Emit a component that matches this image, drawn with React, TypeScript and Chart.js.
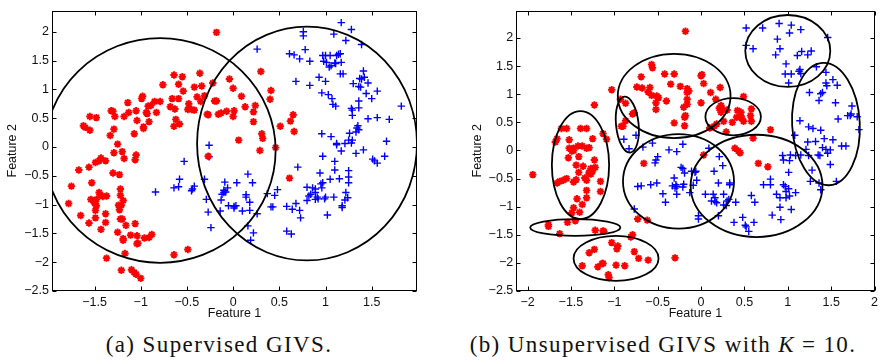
import React, { useEffect, useRef } from 'react';
import { Chart, registerables } from 'chart.js';
Chart.register(...registerables);

type P = [number, number];
type Ell = [number, number, number, number, number];

// ---------- (a) Supervised GIVS ----------
const supRed: P[] = [
  [-0.18,1.99],[0.30,1.31],[-0.36,1.28],[-0.64,1.25],[-0.55,1.22],[-0.04,1.18],[-0.76,1.08],[-0.59,1.09],
  [-0.22,1.11],[0.00,1.02],[-0.42,1.04],[-0.34,1.06],[-0.54,0.97],[0.09,0.88],[0.41,0.98],[-0.98,0.88],
  [-0.99,0.84],[-0.39,0.87],[-0.31,0.89],[-0.66,0.84],[-0.59,0.84],[-0.85,0.79],[-0.89,0.72],[-0.79,0.79],
  [-0.92,0.71],[-1.14,0.77],[0.40,0.83],[-0.20,0.80],[-0.18,0.80],[-0.35,0.79],[-0.48,0.75],[-0.68,0.70],
  [-0.63,0.66],[-0.49,0.65],[-0.45,0.65],[-0.42,0.64],[0.24,0.72],[0.13,0.70],[-0.93,0.58],[-0.83,0.60],
  [-0.94,0.60],[-1.05,0.63],[-1.13,0.60],[-1.32,0.63],[-1.30,0.62],[-1.28,0.53],[0.01,0.63],[-0.07,0.62],
  [-0.13,0.59],[-0.16,0.57],[-0.27,0.56],[-0.28,0.57],[0.00,0.53],[0.22,0.61],[-1.55,0.53],[-1.48,0.51],
  [-1.18,0.53],[-1.04,0.46],[-0.91,0.44],[-0.62,0.48],[-0.64,0.36],[-0.58,0.40],[0.22,0.44],[0.65,0.56],
  [0.62,0.45],[0.51,0.36],[0.66,0.27],[0.31,0.23],[0.32,0.15],[-1.62,0.37],[-1.60,0.34],[-1.55,0.29],
  [-1.29,0.31],[-1.33,0.20],[-0.97,0.35],[-0.97,0.32],[-1.07,0.23],[0.06,0.12],[0.46,-0.01],[0.29,-0.06],
  [-1.25,0.05],[-1.20,-0.08],[-1.29,-0.10],[-0.27,-0.16],[-1.05,-0.14],[-1.06,-0.22],[-1.18,-0.20],[-1.43,-0.19],
  [-1.45,-0.24],[-1.49,-0.27],[-1.38,-0.24],[-1.56,-0.35],[-1.67,-0.40],[-1.30,-0.45],[-1.23,-0.48],[0.61,-0.54],
  [-1.53,-0.62],[-1.75,-0.68],[-1.22,-0.73],[-1.45,-0.79],[-1.44,-0.83],[-1.41,-0.86],[-1.22,-0.84],[-1.37,-0.85],
  [-1.48,-0.91],[-1.54,-0.91],[-1.51,-0.94],[-1.19,-0.93],[-1.78,-0.98],[-1.50,-0.97],[-1.24,-1.01],[-1.21,-1.01],
  [-1.48,-1.02],[-1.49,-1.10],[-1.23,-1.09],[-1.38,-1.16],[-1.65,-1.19],[-1.22,-1.25],[-1.49,-1.23],[-1.20,-1.25],
  [-1.56,-1.32],[-1.38,-1.31],[-1.06,-1.33],[-1.16,-1.36],[-1.25,-1.48],[-1.43,-1.43],[-1.19,-1.59],[-1.19,-1.62],
  [-1.11,-1.53],[-1.04,-1.54],[-0.96,-1.58],[-0.88,-1.52],[-0.91,-1.57],[-1.04,-1.68],[-1.03,-1.67],[-1.17,-1.85],
  [-0.49,-1.78],[-0.64,-1.87],[-1.37,-1.93],[-1.21,-2.14],[-1.10,-2.13],[-1.07,-2.18],[-1.05,-2.21],[-1.00,-2.28],
];

const supBlue: P[] = [
  [1.17,2.16],[1.28,2.04],[0.76,2.00],[0.76,1.93],[1.09,1.96],[1.22,1.85],[0.26,1.70],[1.39,1.78],
  [0.78,1.69],[0.61,1.62],[0.66,1.60],[0.72,1.53],[0.83,1.49],[0.97,1.59],[1.00,1.59],[1.05,1.59],
  [1.12,1.59],[1.14,1.61],[1.16,1.62],[0.98,1.49],[1.01,1.47],[1.04,1.39],[1.10,1.46],[1.17,1.47],
  [1.11,1.45],[1.06,1.41],[1.16,1.27],[1.19,1.27],[1.41,1.32],[0.93,1.21],[1.00,1.14],[0.68,1.14],
  [0.83,1.07],[1.37,1.19],[1.39,1.18],[1.30,1.10],[1.36,1.05],[1.38,1.04],[1.46,1.11],[1.42,1.21],
  [1.56,0.97],[0.96,0.94],[1.03,0.91],[1.07,0.84],[1.44,0.93],[1.50,0.84],[1.08,0.74],[1.11,0.71],
  [1.36,0.80],[1.36,0.68],[1.28,0.67],[1.29,0.64],[1.29,0.55],[1.82,0.71],[1.69,0.48],[1.56,0.51],
  [1.46,0.49],[1.35,0.37],[1.34,0.33],[1.36,0.30],[1.33,0.26],[0.96,0.23],[1.06,0.18],[1.26,0.24],
  [1.12,0.06],[1.12,0.04],[1.21,0.06],[1.25,0.12],[1.29,0.12],[1.28,0.07],[1.17,-0.07],[1.33,-0.11],
  [1.41,-0.05],[1.66,0.10],[1.51,-0.21],[1.53,-0.24],[1.56,-0.28],[1.64,-0.16],[0.97,-0.16],[1.10,-0.25],
  [0.70,-0.35],[1.10,-0.40],[0.94,-0.45],[1.25,-0.41],[1.15,-0.55],[1.05,-0.56],[1.25,-0.52],[0.95,-0.64],
  [0.97,-0.62],[0.96,-0.71],[0.89,-0.73],[0.80,-0.70],[0.86,-0.71],[0.89,-0.79],[0.84,-0.82],[0.82,-0.85],
  [0.91,-0.87],[0.92,-0.90],[0.99,-0.90],[0.89,-0.91],[0.80,-0.93],[1.00,-0.87],[1.09,-0.87],[1.22,-0.79],
  [1.24,-0.88],[1.25,-0.62],[1.21,-0.92],[1.18,-1.02],[1.18,-1.05],[0.58,-1.03],[0.64,-1.08],[0.68,-0.98],
  [0.72,-1.10],[0.73,-1.23],[1.02,-1.18],[0.58,-1.46],[0.63,-1.51],[0.41,-1.04],[0.43,-1.04],[0.45,-0.84],
  [0.48,-0.74],[0.16,-0.47],[0.21,-0.62],[0.37,-0.81],[0.14,-0.83],[0.14,-0.87],[0.04,-0.62],[0.01,-1.03],
  [-0.09,-0.61],[-0.06,-0.71],[-0.10,-0.75],[-0.08,-0.78],[-0.12,-0.82],[-0.13,-0.92],[-0.10,-0.79],[-0.05,-1.02],
  [0.01,-1.06],[0.03,-1.02],[0.10,-1.11],[0.18,-0.96],[0.18,-1.10],[0.26,-1.16],[0.16,-1.37],[0.22,-1.49],
  [0.19,-1.62],[-0.29,-0.91],[-0.31,-0.56],[-0.27,-1.13],[-0.24,-1.40],[-0.14,-1.11],[-0.26,0.03],[-0.26,-0.17],
  [-0.53,-0.25],[-0.58,-0.56],[-0.64,-0.71],[-0.59,-0.69],[-0.44,-0.73],[-0.42,-0.68],[-0.45,-0.76],[-0.84,-0.78],
];

// circles: [centre x, centre y, radius x, radius y, tilt deg]
const supCircles: Ell[] = [
  [-0.79, -0.06, 1.25, 1.95, 0],
  [0.80, 0.06, 1.19, 2.03, 0],
];

const supXTicks = [-1.5, -1, -0.5, 0, 0.5, 1, 1.5];
const supYTicks = [-2.5, -2, -1.5, -1, -0.5, 0, 0.5, 1, 1.5, 2];

// ---------- (b) Unsupervised GIVS, K = 10 ----------
const unsRed: P[] = [
  [-0.18,2.12],[-1.03,1.08],[-1.23,0.81],[-1.55,0.39],[-1.61,0.39],[-1.66,0.21],[-1.68,0.15],[-1.94,-0.43],
  [-1.52,0.19],[-1.52,0.04],[-1.49,0.03],[-1.47,0.04],[-1.47,0.00],[-1.49,-0.01],[-1.39,0.39],[-1.32,0.39],
  [-1.25,0.21],[-1.37,0.08],[-1.42,0.08],[-1.29,0.05],[-1.32,0.04],[-1.53,-0.13],[-1.41,-0.11],[-1.23,-0.17],
  [-1.44,-0.26],[-1.36,-0.28],[-1.27,-0.32],[-1.22,-0.30],[-1.25,-0.36],[-1.29,-0.39],[-1.27,-0.42],[-1.29,-0.41],
  [-1.34,-0.49],[-1.32,-0.53],[-1.41,-0.39],[-1.44,-0.52],[-1.47,-0.56],[-1.55,-0.50],[-1.59,-0.53],[-1.63,-0.55],
  [-1.66,-0.58],[-1.16,-0.55],[-1.16,-0.73],[-1.32,-0.71],[-1.32,-0.84],[-1.43,-0.86],[-1.37,-0.96],[-1.47,-1.02],
  [-1.49,-1.11],[-1.40,-1.10],[-1.45,-1.25],[-1.54,-1.28],[-1.13,0.30],[-1.09,0.20],[-1.76,-1.32],[-1.76,-1.35],
  [-1.63,-1.48],[-1.22,-1.42],[-1.13,-1.43],[-1.12,-1.44],[-0.79,-1.50],[-0.81,-1.54],[-1.29,-1.82],[-1.23,-1.76],
  [-1.37,-2.05],[-1.19,-2.07],[-1.14,-2.01],[-1.13,-2.01],[-1.03,-1.64],[-0.96,-1.70],[-0.97,-1.75],[-0.98,-2.04],
  [-1.07,-2.21],[-1.06,-2.26],[-0.88,-2.05],[-0.77,-1.80],[-0.72,-1.92],[-0.61,-1.95],[-0.30,-1.91],[-0.73,-1.22],
  [-0.62,-1.24],[-0.66,-0.23],[-0.93,0.91],[-0.87,0.84],[-0.92,0.43],[-0.87,0.53],[-0.90,0.43],[-0.79,0.65],
  [-0.77,0.67],[-0.74,1.13],[-0.69,1.31],[-0.68,1.11],[-0.59,1.12],[-0.57,1.53],[-0.56,1.47],[-0.61,1.04],
  [-0.57,0.98],[-0.52,0.85],[-0.52,0.73],[-0.51,0.97],[-0.49,0.94],[-0.42,1.36],[-0.40,0.88],[-0.35,1.18],
  [-0.31,1.36],[-0.31,0.49],[-0.24,1.14],[-0.18,0.62],[-0.19,0.44],[-0.19,0.59],[-0.16,1.03],[-0.16,1.10],
  [-0.14,1.06],[-0.16,0.91],[-0.16,0.82],[-0.20,0.77],[0.00,0.85],[0.01,1.35],[0.03,1.19],[0.00,1.33],
  [0.11,1.03],[0.22,1.12],[0.21,0.75],[0.17,0.91],[0.10,0.40],[0.15,0.43],[0.23,0.80],[0.24,0.74],
  [0.23,0.68],[0.26,0.52],[0.18,0.47],[0.29,0.33],[0.36,0.50],[0.41,0.59],[0.46,0.61],[0.47,0.57],
  [0.49,0.52],[0.49,0.96],[0.46,0.68],[0.57,0.62],[0.58,0.52],[0.58,0.74],[0.42,0.71],[0.30,0.72],
  [0.80,0.37],[0.60,0.22],[0.39,0.04],[0.43,-0.01],[0.45,-0.04],[0.66,-0.23],[0.77,-0.29],[0.03,-0.08],
];

const unsBlue: P[] = [
  [0.52,2.18],[0.71,2.18],[0.90,2.26],[1.04,2.23],[1.15,2.15],[1.02,2.09],[1.46,2.01],[0.88,1.98],
  [0.91,1.81],[0.52,1.87],[0.60,1.81],[0.86,1.70],[1.11,1.69],[1.16,1.76],[1.27,1.77],[1.23,1.70],
  [0.98,1.54],[0.97,1.36],[1.04,1.36],[1.13,1.41],[1.15,1.37],[1.14,1.44],[1.01,1.20],[1.33,1.49],
  [1.44,1.39],[1.52,1.26],[1.44,1.20],[1.45,1.15],[1.57,1.16],[1.40,1.03],[1.38,1.01],[1.36,0.89],
  [1.25,1.03],[1.55,0.85],[1.74,0.79],[1.73,0.65],[1.72,0.62],[1.69,0.62],[1.80,0.60],[1.82,0.37],
  [1.58,0.56],[1.14,0.53],[1.24,0.42],[1.29,0.39],[1.38,0.36],[1.08,0.27],[1.23,0.15],[1.32,0.16],
  [1.42,0.21],[1.52,0.19],[1.21,0.02],[1.40,0.05],[1.44,0.02],[1.46,-0.05],[1.49,0.01],[1.62,0.08],
  [1.67,0.08],[1.24,-0.09],[1.35,-0.08],[1.37,-0.09],[1.49,-0.25],[1.09,-0.09],[1.03,-0.08],[0.94,-0.09],
  [0.95,-0.17],[1.02,-0.18],[1.01,-0.39],[1.15,-0.08],[1.28,-0.35],[1.26,-0.55],[1.36,-0.58],[1.38,-0.70],
  [1.56,-0.55],[0.80,-0.51],[0.80,-0.61],[0.72,-0.61],[0.95,-0.61],[0.97,-0.64],[1.01,-0.68],[0.98,-0.73],
  [1.09,-0.75],[0.87,-0.78],[0.91,-0.84],[0.98,-0.84],[1.02,-0.81],[1.04,-1.05],[0.91,-1.01],[0.82,-1.15],
  [0.92,-1.23],[0.58,-0.80],[0.62,-0.92],[0.61,-1.28],[0.48,-1.19],[0.51,-1.33],[0.55,-1.44],[0.52,-1.36],
  [0.38,-1.28],[0.40,-0.92],[0.32,-0.87],[0.26,-0.78],[0.33,-0.58],[0.33,-0.61],[0.25,-0.27],[0.21,-0.11],
  [0.15,-0.37],[0.20,-0.58],[0.14,-0.78],[0.16,-0.84],[0.16,-0.91],[0.18,-0.93],[0.05,-0.78],[0.12,-0.90],
  [0.26,-0.97],[0.29,-0.98],[0.30,-0.90],[0.20,-1.16],[-0.03,-1.16],[-0.03,-1.22],[0.09,0.04],[-0.06,-0.37],
  [-0.05,-0.53],[-0.07,-0.39],[-0.11,-0.37],[-0.13,-0.75],[-0.09,-0.62],[-0.21,-0.65],[-0.21,-0.32],[-0.20,-0.60],
  [-0.28,-0.02],[-0.37,0.01],[-0.23,-0.30],[-0.21,0.11],[-0.56,0.13],[-0.67,0.06],[-0.52,-0.17],[-0.50,-0.11],
  [-0.53,-0.22],[-0.51,-0.58],[-0.58,-0.61],[-0.69,-0.63],[-0.73,-0.64],[-0.44,-0.77],[-0.41,-0.92],[-0.31,-0.49],
  [-0.29,-0.61],[-0.30,-0.67],[-0.28,-0.78],[-0.28,-0.64],[-0.33,-0.63],[-0.19,-0.40],[-0.89,0.20],[-0.83,0.03],
  [-0.75,0.27],[-0.77,-1.04],
];

// ellipses: [centre x, centre y, radius x, radius y, tilt deg]
const unsEllipses: Ell[] = [
  [1.00, 1.77, 0.49, 0.64, 0],
  [1.44, 0.47, 0.39, 1.09, -3],
  [-0.31, 0.97, 0.65, 0.75, 0],
  [-0.85, 0.46, 0.13, 0.50, -6],
  [0.37, 0.60, 0.32, 0.33, 0],
  [-1.39, -0.26, 0.33, 0.96, 0],
  [-0.26, -0.55, 0.64, 0.84, 0],
  [0.64, -0.63, 0.76, 0.91, 0],
  [-1.45, -1.37, 0.52, 0.15, 0],
  [-0.98, -1.92, 0.49, 0.40, 0],
];

const unsXTicks = [-2, -1.5, -1, -0.5, 0, 0.5, 1, 1.5, 2];
const unsYTicks = [-2.5, -2, -1.5, -1, -0.5, 0, 0.5, 1, 1.5, 2];

const fmt = (v: number) => (v < 0 ? '\u2212' + String(Math.abs(v)) : String(v));

const FONT = { family: "'Liberation Sans', Arial, sans-serif", size: 12.5 };

const framePlugin = {
  id: 'givsFrame',
  afterDatasetsDraw(chart: any, _args: any, opts: any) {
    const { ctx, chartArea: a, scales } = chart;
    const xs = scales.x, ys = scales.y;
    ctx.save();
    ctx.beginPath();
    ctx.rect(a.left, a.top, a.right - a.left, a.bottom - a.top);
    ctx.clip();
    ctx.strokeStyle = '#000';
    ctx.lineWidth = 1.8;
    for (const [cx, cy, rx, ry, rot] of opts.items as Ell[]) {
      const px = xs.getPixelForValue(cx), py = ys.getPixelForValue(cy);
      const prx = Math.abs(xs.getPixelForValue(cx + rx) - px);
      const pry = Math.abs(ys.getPixelForValue(cy + ry) - py);
      ctx.beginPath();
      ctx.ellipse(px, py, prx, pry, (rot * Math.PI) / 180, 0, Math.PI * 2);
      ctx.stroke();
    }
    ctx.restore();

    // box with inward ticks
    ctx.save();
    ctx.strokeStyle = '#000';
    ctx.lineWidth = 1;
    const L = Math.round(a.left) + 0.5, R = Math.round(a.right) - 0.5;
    const T = Math.round(a.top) + 0.5, B = Math.round(a.bottom) - 0.5;
    ctx.strokeRect(L, T, R - L, B - T);
    const tl = 4;
    ctx.beginPath();
    for (const t of xs.ticks) {
      const x = Math.round(xs.getPixelForValue(t.value)) + 0.5;
      ctx.moveTo(x, B); ctx.lineTo(x, B - tl);
      ctx.moveTo(x, T); ctx.lineTo(x, T + tl);
    }
    for (const t of ys.ticks) {
      const y = Math.round(ys.getPixelForValue(t.value)) + 0.5;
      ctx.moveTo(L, y); ctx.lineTo(L + tl, y);
      ctx.moveTo(R, y); ctx.lineTo(R - tl, y);
    }
    ctx.stroke();
    ctx.restore();
  },
};

type PanelProps = {
  red: P[]; blue: P[]; ells: Ell[];
  xMin: number; xMax: number; yMin: number; yMax: number;
  xTicks: number[]; yTicks: number[];
  padLeft: number; padTop: number; padRight: number; yAxisW: number; yTitlePad: number;
};

function Panel(p: PanelProps) {
  const ref = useRef<HTMLCanvasElement>(null);
  useEffect(() => {
    if (!ref.current) return;
    const chart = new Chart(ref.current, {
      type: 'scatter',
      data: {
        datasets: [
          {
            data: p.red.map(([x, y]) => ({ x, y })),
            pointStyle: 'star', pointRadius: 3.7, pointBorderWidth: 1.9,
            borderColor: '#ff0000', backgroundColor: '#ff0000',
          } as any,
          {
            data: p.blue.map(([x, y]) => ({ x, y })),
            pointStyle: 'cross', pointRadius: 3.7, pointBorderWidth: 1.4,
            borderColor: '#0000ff', backgroundColor: '#0000ff',
          } as any,
        ],
      },
      options: {
        animation: false,
        responsive: false,
        maintainAspectRatio: false,
        events: [],
        layout: { padding: { left: p.padLeft, top: p.padTop, right: p.padRight, bottom: 0 } },
        plugins: {
          legend: { display: false },
          tooltip: { enabled: false },
          givsFrame: { items: p.ells },
        } as any,
        scales: {
          x: {
            type: 'linear', min: p.xMin, max: p.xMax,
            afterBuildTicks: (s: any) => { s.ticks = p.xTicks.map((v) => ({ value: v })); },
            afterFit: (s: any) => { s.height = 39; },
            grid: { display: false, drawTicks: false },
            border: { display: false },
            ticks: { padding: 4, font: FONT, color: '#111', callback: (v: any) => fmt(Number(v)), maxRotation: 0, autoSkip: false },
            title: { display: true, text: 'Feature 1', font: FONT, color: '#111', padding: { top: 0, bottom: 8.5 } },
          },
          y: {
            type: 'linear', min: p.yMin, max: p.yMax,
            afterBuildTicks: (s: any) => { s.ticks = p.yTicks.map((v) => ({ value: v })); },
            afterFit: (s: any) => { s.width = p.yAxisW; },
            grid: { display: false, drawTicks: false },
            border: { display: false },
            ticks: { padding: 3, font: FONT, color: '#111', callback: (v: any) => fmt(Number(v)), autoSkip: false },
            title: { display: true, text: 'Feature 2', font: FONT, color: '#111', padding: { top: p.yTitlePad, bottom: 0 } },
          },
        },
      } as any,
      plugins: [framePlugin],
    });
    return () => chart.destroy();
  }, []);
  return <canvas ref={ref} width={441} height={330} style={{ width: 441, height: 330, display: 'block' }} />;
}

const captionStyle: React.CSSProperties = {
  position: 'absolute', top: 333, fontFamily: "'Liberation Serif', 'Times New Roman', serif",
  fontSize: 23, lineHeight: '24px', letterSpacing: '1.4px', color: '#111', textAlign: 'center', whiteSpace: 'nowrap',
};

export default function App() {
  return (
    <div style={{ position: 'absolute', left: 0, top: 0, width: 882, height: 361, background: '#fff', overflow: 'hidden' }}>
      <div style={{ position: 'absolute', left: 0, top: 0 }}>
        <Panel red={supRed} blue={supBlue} ells={supCircles}
          xMin={-1.96} xMax={1.99} yMin={-2.5} yMax={2.37}
          xTicks={supXTicks} yTicks={supYTicks}
          padLeft={0} padTop={4} padRight={24} yAxisW={52} yTitlePad={5.5} />
      </div>
      <div style={{ position: 'absolute', left: 441, top: 0 }}>
        <Panel red={unsRed} blue={unsBlue} ells={unsEllipses}
          xMin={-2.13} xMax={2} yMin={-2.5} yMax={2.49}
          xTicks={unsXTicks} yTicks={unsYTicks}
          padLeft={23} padTop={6.7} padRight={5} yAxisW={52.3} yTitlePad={6.2} />
      </div>
      <div style={{ ...captionStyle, left: 0, width: 438 }}>(a) Supervised GIVS.</div>
      <div style={{ ...captionStyle, left: 441, width: 444 }}>
        (b) Unsupervised GIVS with <i>K</i>
        <span style={{ margin: '0 7px' }}>=</span>10.
      </div>
    </div>
  );
}
